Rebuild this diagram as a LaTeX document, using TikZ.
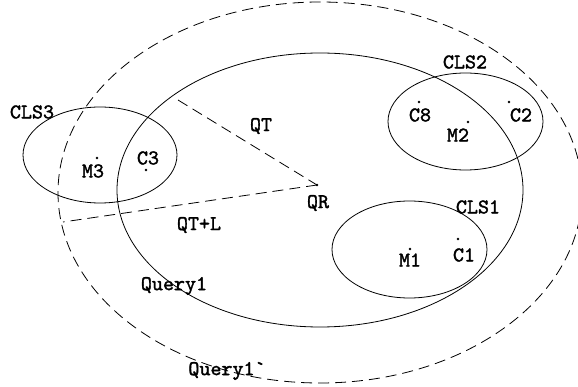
\documentclass[tikz,border=0pt]{standalone}
\usepackage{fontspec}
\newfontfamily\lblfont{lmmono10-regular.otf}[FakeBold=1.6]
\usetikzlibrary{shapes.geometric}
\begin{document}
\begin{tikzpicture}[x=1pt,y=-1pt,
  lbl/.style={font=\fontsize{21}{21}\selectfont\lblfont, inner sep=0pt},
  ell/.style={ellipse, draw, line width=0.8pt, inner sep=0pt},
  dashell/.style={ell, dash pattern=on 11pt off 6pt},
  dashline/.style={dash pattern=on 11pt off 6pt, line width=0.8pt},
  pt/.style={circle, fill, inner sep=0pt, minimum size=2.6pt}]
\useasboundingbox (0,0) rectangle (578,387);
% ellipses
\node[dashell, minimum width=524pt, minimum height=381pt] (q1p) at (320,192.5) {};
\node[ell, minimum width=406pt, minimum height=274pt] (q1) at (320,190) {};
\node[ell, minimum width=154pt, minimum height=96pt] (cls3) at (100,155) {};
\node[ell, minimum width=155pt, minimum height=97pt] (cls2) at (465.5,121.5) {};
\node[ell, minimum width=155pt, minimum height=97pt] (cls1) at (409.5,249.5) {};
% points
\node[pt] (m3) at (97,158) {};
\node[pt] (c3) at (146,170) {};
\node[pt] (c8) at (419,102) {};
\node[pt] (c2) at (509,102) {};
\node[pt] (m2) at (468,122) {};
\node[pt] (qr) at (317,185) {};
\node[pt] (m1) at (410,249) {};
\node[pt] (c1) at (458,239) {};
% dashed radii
\coordinate (qtend) at (178,100);
\coordinate (qlend) at (63,222);
\draw[dashline] (qtend) -- (qr.center);
\draw[dashline] (qr.center) -- (qlend);
% labels
\node[lbl] (lcls3) at (32,112) {CLS3};
\node[lbl] (lm3) at (93,171) {M3};
\node[lbl] (lc3) at (148,158) {C3};
\node[lbl] (lcls2) at (465,62) {CLS2};
\node[lbl] (lc8) at (420,115) {C8};
\node[lbl] (lc2) at (521,115) {C2};
\node[lbl] (lm2) at (458,135) {M2};
\node[lbl] (lqr) at (318,203) {QR};
\node[lbl] (lqt) at (261,126) {QT};
\node[lbl] (lqtl) at (199,225) {QT+L};
\node[lbl] (lcls1) at (478,207) {CLS1};
\node[lbl] (lm1) at (410,260) {M1};
\node[lbl] (lc1) at (464,255) {C1};
\node[lbl] (lq1) at (174,286) {Query1};
\node[lbl] (lq1p) at (227,371) {Query1\textasciigrave};
\end{tikzpicture}
\end{document}
